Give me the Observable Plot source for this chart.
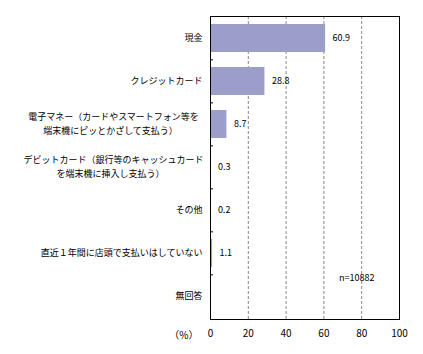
<!DOCTYPE html>
<html><head><meta charset="utf-8">
<script src="https://cdn.jsdelivr.net/npm/d3@7"></script>
<script src="https://cdn.jsdelivr.net/npm/@observablehq/plot@0.6"></script>
<style>
body{margin:0;background:#fff;}
svg{font-family:"Noto Sans CJK JP",sans-serif;}
</style>
</head><body>
<div id="chart"></div>
<script>
const categories = ["現金","クレジットカード","電子マネー（カードやスマートフォン等を\n端末機にピッとかざして支払う）","デビットカード（銀行等のキャッシュカード\nを端末機に挿入し支払う）","その他","直近１年間に店頭で支払いはしていない","無回答"];
const values = [60.9, 28.8, 8.7, 0.3, 0.2, 1.1, null];
const xTicks = [0,20,40,60,80,100];
const sampleNote = "n=10882";
const unitLabel = "（%）";

const data = categories.map((c,i)=>({cat:c, v:values[i]}));
const single = data.filter(d=>!d.cat.includes("\n"));
const multi = data.filter(d=>d.cat.includes("\n"));
const innerH = 354 - 16 - 35;
const step = innerH / categories.length;

const chart = Plot.plot({
  width: 423, height: 354,
  marginLeft: 210, marginRight: 24, marginTop: 16, marginBottom: 35,
  style: {fontFamily: "'Noto Sans CJK JP', sans-serif", fontSize: "10px", background: "#fff"},
  x: {domain:[0,100], ticks: xTicks, label: null, tickSize: 0, tickPadding: 10},
  y: {domain: categories, paddingInner: 0.34, paddingOuter: 0.17, label: null, axis: null},
  marks: [
    Plot.ruleX(xTicks.slice(1,-1), {stroke:"#888", strokeDasharray:"3,2", strokeWidth:1}),
    Plot.barX(data.filter(d=>d.v!=null), {x:"v", y:"cat", fill:"#9a9ec8"}),
    Plot.text(data.filter(d=>d.v!=null), {x:"v", y:"cat", text:d=>d.v.toFixed(1), textAnchor:"start", dx:7, fontSize:9, fill:"#000"}),
    Plot.text(single, {y:"cat", text:"cat", frameAnchor:"left", textAnchor:"end", dx:-8, fontSize:9, fill:"#000"}),
    Plot.text(multi, {y:"cat", text:d=>d.cat.split("\n")[0], frameAnchor:"left", textAnchor:"middle", dx:-97, dy:-7, fontSize:9, fill:"#000"}),
    Plot.text(multi, {y:"cat", text:d=>d.cat.split("\n")[1], frameAnchor:"left", textAnchor:"middle", dx:-100, dy:7, fontSize:9, fill:"#000"}),
    Plot.ruleY(categories.slice(1), {y: d=>d, x1:0, x2:1.6, stroke:"#000", dy:-step/2}),
    Plot.text([sampleNote], {x:68, y:[categories[6]], text:d=>d, textAnchor:"start", dy:-18, fontSize:9, fill:"#000"}),
    Plot.text([unitLabel], {frameAnchor:"bottom-left", textAnchor:"end", dx:-12, dy:19, fontSize:10, fill:"#000"}),
    Plot.frame({stroke:"#000", strokeWidth:1})
  ]
});
document.getElementById("chart").appendChild(chart);
</script>
</body></html>
